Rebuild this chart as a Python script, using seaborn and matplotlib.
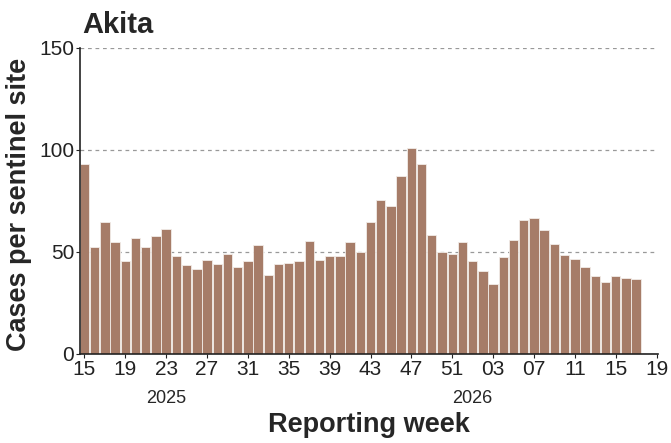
import numpy as np
import pandas as pd
import matplotlib
matplotlib.use("Agg")
import matplotlib.pyplot as plt
import seaborn as sns

# Data: cases per sentinel site, week 15/2025 to week 17/2026
weeks_2025 = list(range(15, 53))
weeks_2026 = list(range(1, 18))
cases_2025 = [93.1, 52.3, 64.5, 54.9, 45.7, 56.7, 52.3, 57.7, 61.1, 48.0,
              43.6, 41.5, 46.1, 44.0, 49.2, 42.5, 45.4, 53.6, 38.7, 44.0,
              44.8, 45.4, 55.4, 46.2, 48.2, 48.2, 54.9, 49.8, 64.5, 75.5,
              72.7, 87.3, 101.0, 93.0, 58.5, 50.0, 49.0, 55.0]
cases_2026 = [45.6, 40.7, 34.1, 47.7, 55.7, 65.5, 66.5, 60.5, 53.7, 48.4,
              46.6, 42.6, 38.4, 35.5, 38.0, 37.0, 36.8]
tick_labels = ["15", "19", "23", "27", "31", "35", "39", "43", "47", "51",
               "03", "07", "11", "15", "19"]
year_labels = ["2025", "2026"]

df = pd.DataFrame({
    "week": weeks_2025 + weeks_2026,
    "cases": cases_2025 + cases_2026,
})
df["pos"] = np.arange(len(df))

sns.set_style("white")
plt.rcParams['font.family'] = ['Liberation Sans', 'DejaVu Sans']

fig = plt.figure(figsize=(6.71, 4.43), dpi=100)
ax = fig.add_axes([0.119, 0.201, 0.861, 0.691])

sns.barplot(data=df, x="pos", y="cases", native_scale=True, color="#A67C68",
            saturation=1, width=0.92, edgecolor="#f2ece8", linewidth=0.6,
            ax=ax, zorder=2)

ax.set_ylim(0, 150)
ax.set_yticks([0, 50, 100, 150])
ax.yaxis.grid(True, linestyle=(0, (3, 3)), color="#999999", linewidth=0.9, zorder=0)
ax.set_axisbelow(True)

ax.set_xticks(np.arange(0, 57, 4))
ax.set_xticklabels(tick_labels)
ax.set_xlim(-0.45, 56.1)

ax.tick_params(axis="both", labelsize=15, length=3, width=0.8, direction="out",
               colors="#222222", pad=1)
ax.tick_params(axis="x", bottom=True)
ax.tick_params(axis="y", left=True)

for side in ["top", "right"]:
    ax.spines[side].set_visible(False)
for side in ["left", "bottom"]:
    ax.spines[side].set_color("#222222")
    ax.spines[side].set_linewidth(1.2)

ax.set_xlabel("Reporting week", fontsize=19.5, fontweight="bold")
ax.set_ylabel("Cases per sentinel site", fontsize=19.5, fontweight="bold")
ax.xaxis.set_label_coords(0.5, -0.19)
ax.yaxis.set_label_coords(-0.083, 0.49)

# year labels under the week ticks (at week 23 of 2025 and week 01 of 2026)
trans = ax.get_xaxis_transform()
ax.text(8, -0.147, year_labels[0], transform=trans, ha="center", va="center", fontsize=13)
ax.text(38, -0.147, year_labels[1], transform=trans, ha="center", va="center", fontsize=13)

fig.text(0.122, 0.944, "Akita", fontsize=21, fontweight="bold", ha="left", va="center")

fig.savefig("out.png", dpi=100)
